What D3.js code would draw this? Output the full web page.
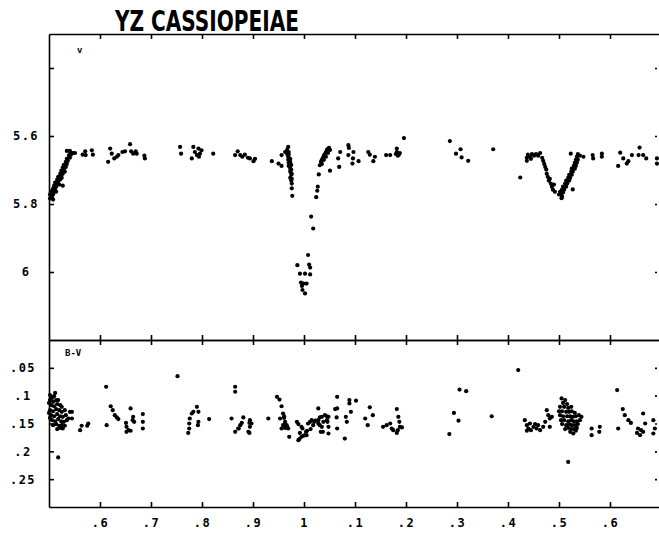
<!DOCTYPE html>
<html>
<head>
<meta charset="utf-8">
<script src="https://cdn.jsdelivr.net/npm/d3@7"></script>
<style>
  body { margin: 0; background: #fff; }
  svg { display: block; background: #fff; }
  .axis path, .axis line { stroke: #000; stroke-width: 1.6; }
  .axis text { font-family: "DejaVu Sans Mono", monospace; font-weight: bold; font-size: 12px; letter-spacing: 1.5px; fill: #000; }
</style>
</head>
<body>
<svg id="chart"></svg>
<script>
const W = 659, H = 533;

// phase ticks (phase runs 0.5 .. 1.7, labels wrap after 1)
const xTickValues = [0.6, 0.7, 0.8, 0.9, 1.0, 1.1, 1.2, 1.3, 1.4, 1.5, 1.6];
const xTickLabels = [".6", ".7", ".8", ".9", "1", ".1", ".2", ".3", ".4", ".5", ".6"];
const vTickValues = [5.4, 5.6, 5.8, 6.0];
const vTickLabels = ["", "5.6", "5.8", "6"];
const bvTickValues = [0.05, 0.1, 0.15, 0.2, 0.25];
const bvTickLabels = [".05", ".1", ".15", ".2", ".25"];

// V light curve, [phase, V]
const vEgressA = [
  [0.502,5.784],[0.504,5.775],[0.506,5.781],[0.504,5.766],[0.508,5.772],[0.506,5.761],[0.510,5.764],
  [0.508,5.755],[0.512,5.758],[0.510,5.746],[0.514,5.749],[0.512,5.737],[0.516,5.740],[0.516,5.728],
  [0.518,5.734],[0.518,5.720],[0.520,5.726],[0.522,5.711],[0.524,5.717],[0.524,5.702],[0.525,5.708],
  [0.527,5.693],[0.529,5.699],[0.529,5.685],[0.531,5.691],[0.533,5.676],[0.535,5.682],[0.535,5.667],
  [0.537,5.673],[0.539,5.658],[0.541,5.664],[0.541,5.653],[0.543,5.655],[0.545,5.650],[0.502,5.772],
  [0.514,5.764],[0.520,5.743],[0.525,5.723],[0.531,5.705],[0.508,5.787],[0.506,5.769],[0.522,5.728],
  [0.527,5.711],[0.533,5.691],[0.527,5.746],[0.535,5.644],[0.547,5.650],[0.551,5.650],[0.541,5.644]
];
const vMaxA = [
  [0.566,5.655],[0.571,5.645],[0.572,5.656],[0.584,5.642],[0.586,5.655],[0.620,5.637],[0.623,5.652],
  [0.616,5.676],[0.628,5.666],[0.633,5.661],[0.636,5.656],[0.644,5.647],[0.649,5.645],[0.659,5.624],
  [0.661,5.645],[0.665,5.652],[0.670,5.645],[0.672,5.652],[0.687,5.658],[0.688,5.666],[0.757,5.632],
  [0.759,5.652],[0.780,5.666],[0.783,5.632],[0.786,5.647],[0.790,5.656],[0.793,5.637],[0.794,5.661],
  [0.796,5.652],[0.799,5.642],[0.822,5.652],[0.865,5.656],[0.870,5.645],[0.875,5.656],[0.879,5.661],
  [0.884,5.655],[0.890,5.664],[0.894,5.666],[0.901,5.674],[0.904,5.667],[0.937,5.674],[0.950,5.681],
  [0.956,5.688],[0.956,5.656]
];
const vPrimary = [
  [0.963,5.647],[0.969,5.632],[0.967,5.641],[0.970,5.647],[0.967,5.653],[0.969,5.661],[0.969,5.670],
  [0.970,5.679],[0.970,5.688],[0.973,5.696],[0.973,5.705],[0.975,5.714],[0.973,5.723],[0.975,5.731],
  [0.976,5.740],[0.970,5.655],[0.973,5.667],[0.973,5.676],[0.975,5.685],[0.975,5.699],[0.976,5.711],
  [0.976,5.726],[0.976,5.754],[0.977,5.776],[1.014,5.837],[1.018,5.872],[1.008,5.950],[0.987,5.980],
  [1.010,5.978],[1.012,5.987],[0.992,6.005],[1.002,6.005],[1.012,6.007],[0.994,6.031],[0.999,6.034],
  [1.005,6.034],[0.997,6.053],[1.002,6.063],[0.996,6.041],[1.024,5.780],[1.026,5.761],[1.027,5.749],
  [1.029,5.713],[1.031,5.686],[1.033,5.676],[1.035,5.670],[1.037,5.664],[1.039,5.658],[1.041,5.653],
  [1.043,5.647],[1.045,5.641],[1.047,5.638],[1.049,5.635],[1.051,5.641],[1.035,5.682],[1.039,5.670],
  [1.043,5.661],[1.047,5.650],[1.051,5.702]
];
const vMaxB = [
  [1.067,5.666],[1.069,5.691],[1.071,5.647],[1.087,5.627],[1.088,5.635],[1.087,5.656],[1.097,5.647],
  [1.096,5.666],[1.095,5.681],[1.107,5.674],[1.126,5.647],[1.129,5.655],[1.136,5.674],[1.139,5.661],
  [1.161,5.656],[1.169,5.656],[1.182,5.637],[1.185,5.652],[1.182,5.647],[1.186,5.655],[1.188,5.650],
  [1.184,5.658],[1.180,5.653],[1.196,5.606],[1.286,5.615],[1.298,5.652],[1.307,5.639],[1.309,5.663],
  [1.322,5.673],[1.371,5.639],[1.424,5.722]
];
const vSecondary = [
  [1.437,5.664],[1.439,5.655],[1.443,5.661],[1.447,5.653],[1.451,5.658],[1.455,5.653],[1.459,5.658],
  [1.463,5.650],[1.437,5.673],[1.445,5.667],[1.467,5.664],[1.469,5.673],[1.471,5.682],[1.473,5.691],
  [1.475,5.699],[1.476,5.711],[1.478,5.720],[1.480,5.731],[1.484,5.740],[1.486,5.749],[1.488,5.758],
  [1.492,5.764],[1.490,5.743],[1.482,5.726],[1.505,5.783],[1.500,5.772],[1.502,5.764],[1.504,5.772],
  [1.506,5.758],[1.508,5.766],[1.508,5.749],[1.510,5.758],[1.512,5.740],[1.514,5.749],[1.514,5.731],
  [1.516,5.740],[1.518,5.723],[1.520,5.731],[1.520,5.714],[1.522,5.723],[1.524,5.705],[1.525,5.714],
  [1.525,5.696],[1.527,5.705],[1.529,5.688],[1.531,5.696],[1.531,5.679],[1.533,5.688],[1.533,5.670],
  [1.535,5.679],[1.535,5.661],[1.537,5.670],[1.506,5.778],[1.523,5.652],[1.527,5.757],[1.541,5.658],
  [1.548,5.661],[1.537,5.653]
];
const vMaxC = [
  [1.566,5.656],[1.567,5.666],[1.584,5.652],[1.584,5.661],[1.620,5.649],[1.616,5.688],[1.626,5.666],
  [1.633,5.681],[1.636,5.674],[1.643,5.656],[1.658,5.634],[1.656,5.656],[1.665,5.656],[1.671,5.666],
  [1.692,5.666],[1.692,5.681]
];

// B-V colour curve, [phase, B-V]
const bvLeft = [
  [0.502,0.099],[0.506,0.104],[0.510,0.101],[0.502,0.108],[0.508,0.111],[0.514,0.108],[0.518,0.108],
  [0.504,0.117],[0.510,0.119],[0.516,0.115],[0.522,0.117],[0.525,0.120],[0.502,0.126],[0.508,0.128],
  [0.514,0.124],[0.520,0.126],[0.525,0.129],[0.531,0.126],[0.504,0.135],[0.510,0.137],[0.516,0.133],
  [0.522,0.137],[0.527,0.138],[0.533,0.135],[0.506,0.144],[0.512,0.146],[0.518,0.142],[0.524,0.146],
  [0.529,0.147],[0.535,0.144],[0.508,0.153],[0.514,0.151],[0.520,0.154],[0.525,0.153],[0.531,0.154],
  [0.516,0.160],[0.522,0.158],[0.527,0.159],[0.545,0.129],[0.538,0.141],[0.541,0.129],[0.545,0.141],
  [0.502,0.140],[0.500,0.131],[0.500,0.113],[0.512,0.095],[0.518,0.211]
];
const bvMid = [
  [0.561,0.162],[0.564,0.154],[0.575,0.154],[0.577,0.150],[0.612,0.084],[0.613,0.153],[0.621,0.119],
  [0.625,0.126],[0.629,0.135],[0.633,0.139],[0.636,0.142],[0.660,0.123],[0.665,0.138],[0.664,0.144],
  [0.651,0.149],[0.652,0.156],[0.656,0.162],[0.652,0.165],[0.660,0.163],[0.667,0.147],[0.684,0.133],
  [0.684,0.147],[0.684,0.159],[0.752,0.065],[0.790,0.120],[0.783,0.129],[0.780,0.132],[0.776,0.141],
  [0.775,0.150],[0.775,0.159],[0.773,0.167],[0.793,0.129],[0.793,0.147],[0.792,0.153],[0.814,0.142],
  [0.865,0.084],[0.865,0.093],[0.858,0.141],[0.881,0.139],[0.878,0.149],[0.875,0.153],[0.872,0.159],
  [0.865,0.165],[0.871,0.159],[0.893,0.149],[0.894,0.156],[0.893,0.167],[0.897,0.150],[0.891,0.165],
  [0.894,0.144]
];
const bvPrimary = [
  [0.930,0.141],[0.947,0.102],[0.952,0.107],[0.956,0.119],[0.953,0.141],[0.959,0.132],[0.963,0.147],
  [0.967,0.156],[0.971,0.174],[0.956,0.159],[0.966,0.153],[0.969,0.159],[0.961,0.140],[0.963,0.149],
  [0.959,0.153],[0.963,0.158],[0.961,0.137],[0.986,0.147],[0.989,0.151],[0.992,0.167],[0.989,0.180],
  [0.991,0.178],[0.995,0.174],[0.999,0.172],[1.002,0.171],[1.005,0.171],[0.995,0.156],[1.006,0.163],
  [1.013,0.160],[0.997,0.159],[1.004,0.165],[1.008,0.150],[1.012,0.147],[1.015,0.144],[1.018,0.153],
  [1.020,0.147],[1.022,0.145],[1.028,0.123],[1.028,0.144],[1.028,0.150],[1.031,0.139],[1.031,0.153],
  [1.035,0.138],[1.035,0.156],[1.037,0.165],[1.038,0.147],[1.041,0.135],[1.045,0.144],[1.045,0.137],
  [1.046,0.147],[1.048,0.156],[1.048,0.168],[1.048,0.138],[1.033,0.165]
];
const bvMaxB = [
  [1.061,0.124],[1.065,0.123],[1.065,0.102],[1.064,0.139],[1.065,0.159],[1.080,0.177],[1.082,0.138],
  [1.084,0.147],[1.089,0.108],[1.089,0.114],[1.102,0.109],[1.092,0.129],[1.120,0.141],[1.125,0.153],
  [1.129,0.121],[1.135,0.135],[1.155,0.156],[1.162,0.153],[1.169,0.150],[1.172,0.159],[1.175,0.162],
  [1.182,0.167],[1.182,0.124],[1.185,0.138],[1.187,0.147],[1.188,0.156],[1.192,0.157],[1.184,0.162],
  [1.285,0.169],[1.294,0.131],[1.303,0.145],[1.305,0.089],[1.318,0.092],[1.368,0.137],[1.420,0.054]
];
const bvSecondary = [
  [1.433,0.144],[1.437,0.153],[1.440,0.159],[1.443,0.150],[1.450,0.156],[1.456,0.159],[1.459,0.153],
  [1.463,0.162],[1.469,0.156],[1.473,0.147],[1.476,0.126],[1.479,0.135],[1.482,0.141],[1.486,0.138],
  [1.482,0.156],[1.445,0.162],[1.453,0.151],[1.437,0.163],
  [1.505,0.105],[1.512,0.108],[1.508,0.113],[1.516,0.115],[1.502,0.120],[1.510,0.120],[1.518,0.122],
  [1.524,0.120],[1.500,0.128],[1.506,0.128],[1.514,0.129],[1.520,0.129],[1.525,0.128],[1.531,0.131],
  [1.502,0.135],[1.508,0.137],[1.516,0.137],[1.522,0.137],[1.527,0.138],[1.533,0.137],[1.539,0.135],
  [1.544,0.138],[1.504,0.144],[1.510,0.144],[1.518,0.146],[1.524,0.144],[1.529,0.146],[1.535,0.146],
  [1.541,0.144],[1.506,0.151],[1.514,0.153],[1.520,0.151],[1.525,0.153],[1.531,0.153],[1.537,0.151],
  [1.512,0.160],[1.518,0.158],[1.524,0.160],[1.529,0.160],[1.535,0.158],[1.528,0.168],[1.522,0.165],
  [1.533,0.163],[1.518,0.219]
];
const bvMaxC = [
  [1.564,0.159],[1.564,0.171],[1.580,0.156],[1.579,0.165],[1.614,0.090],[1.625,0.124],[1.629,0.135],
  [1.636,0.144],[1.641,0.149],[1.616,0.159],[1.655,0.159],[1.659,0.171],[1.653,0.167],[1.665,0.132],
  [1.669,0.150],[1.665,0.165],[1.685,0.144],[1.688,0.159],[1.685,0.168],[1.661,0.162]
];

const vData = [...vEgressA, ...vMaxA, ...vPrimary, ...vMaxB, ...vSecondary, ...vMaxC];
const bvData = [...bvLeft, ...bvMid, ...bvPrimary, ...bvMaxB, ...bvSecondary, ...bvMaxC];

const svg = d3.select("#chart").attr("width", W).attr("height", H);

const frame = { left: 49, right: 661, top: 34, mid: 340, bottom: 507 };

const x = d3.scaleLinear().domain([0.5, 1.7]).range([frame.left, frame.right]);
const yV = d3.scaleLinear().domain([5.3, 6.2]).range([frame.top, frame.mid]);
const yBV = d3.scaleLinear().domain([0, 0.3]).range([frame.mid, frame.bottom]);

const xFmt = (d) => xTickLabels[xTickValues.indexOf(d)];

// top frame, ticks pointing down
svg.append("g").attr("class", "axis")
  .attr("transform", `translate(0,${frame.top})`)
  .call(d3.axisBottom(x).tickValues(xTickValues).tickSize(5).tickSizeOuter(0).tickFormat(""));

// divider, ticks crossing
svg.append("g").attr("class", "axis")
  .attr("transform", `translate(0,${frame.mid})`)
  .call(d3.axisBottom(x).tickValues(xTickValues).tickSize(5).tickSizeOuter(0).tickFormat(""));
svg.append("g").attr("class", "axis")
  .attr("transform", `translate(0,${frame.mid})`)
  .call(d3.axisTop(x).tickValues(xTickValues).tickSize(5).tickSizeOuter(0).tickFormat(""));

// bottom axis, ticks pointing up, labels below
svg.append("g").attr("class", "axis")
  .attr("transform", `translate(0,${frame.bottom})`)
  .call(d3.axisBottom(x).tickValues(xTickValues).tickSize(-5).tickSizeOuter(0).tickPadding(11).tickFormat(xFmt));

// left axes
const gV = svg.append("g").attr("class", "axis")
  .attr("transform", `translate(${frame.left},0)`)
  .call(d3.axisLeft(yV).tickValues(vTickValues).tickSize(-5).tickSizeOuter(0)
    .tickFormat((d, i) => vTickLabels[i]));
gV.selectAll("text").attr("text-anchor", "middle").attr("x", 26 - frame.left);

const gBV = svg.append("g").attr("class", "axis")
  .attr("transform", `translate(${frame.left},0)`)
  .call(d3.axisLeft(yBV).tickValues(bvTickValues).tickSize(-5).tickSizeOuter(0)
    .tickFormat((d, i) => bvTickLabels[i]));
gBV.selectAll("text").attr("text-anchor", "middle").attr("x", 23 - frame.left);

// small marks along the open right side
[[yV, vTickValues], [yBV, bvTickValues]].forEach(([sc, vals]) => {
  const g = svg.append("g").attr("class", "axis")
    .attr("transform", `translate(${W - 2},0)`)
    .call(d3.axisRight(sc).tickValues(vals).tickSize(-2).tickFormat(""));
  g.select(".domain").remove();
});

// title
svg.append("text")
  .attr("x", 115).attr("y", 31)
  .attr("textLength", 184).attr("lengthAdjust", "spacingAndGlyphs")
  .style("font-family", "'DejaVu Sans Condensed', 'DejaVu Sans', sans-serif")
  .style("font-weight", "bold").style("font-size", "29px")
  .text("YZ CASSIOPEIAE");

// panel labels
svg.append("text").attr("x", 77).attr("y", 53)
  .style("font-family", "'DejaVu Sans Mono', monospace").style("font-weight", "bold").style("font-size", "9px")
  .text("v");
svg.append("text").attr("x", 65).attr("y", 356)
  .style("font-family", "'DejaVu Sans Mono', monospace").style("font-weight", "bold").style("font-size", "9px")
  .text("B-V");

// points
svg.append("g").selectAll("circle").data(vData).enter().append("circle")
  .attr("cx", (d) => x(d[0])).attr("cy", (d) => yV(d[1])).attr("r", 2.1).attr("fill", "#000");

svg.append("g").selectAll("circle").data(bvData).enter().append("circle")
  .attr("cx", (d) => x(d[0])).attr("cy", (d) => yBV(d[1])).attr("r", 2.1).attr("fill", "#000");
</script>
</body>
</html>
